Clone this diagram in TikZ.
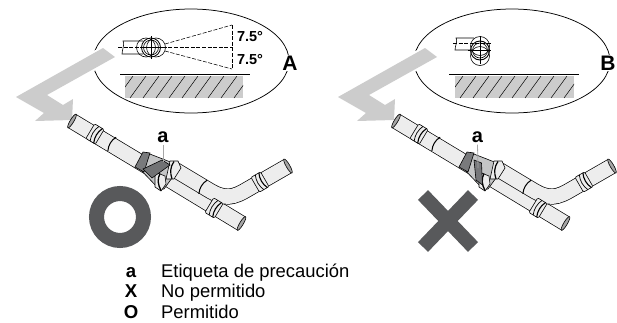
\documentclass[tikz,border=0pt]{standalone}
\usepackage{fontspec}
\setmainfont{Liberation Sans}
\definecolor{pipefill}{HTML}{EDEDED}
\definecolor{arrowgray}{HTML}{CCCCCC}
\definecolor{darkmark}{HTML}{58595B}
\definecolor{midmark}{HTML}{77787B}
\definecolor{junctionfill}{HTML}{C4C5C6}
\usetikzlibrary{shapes.geometric}
\tikzset{
  lens/.style={draw=black,line width=.75,ellipse,minimum width=196pt,minimum height=104pt,inner sep=0},
  bigletter/.style={font=\bfseries\fontsize{21}{21}\selectfont,fill=white,inner sep=1pt},
  anglelabel/.style={font=\bfseries\fontsize{14.5}{14.5}\selectfont,inner sep=0},
  partlabel/.style={font=\bfseries\fontsize{20}{20}\selectfont,inner sep=0},
  legendkey/.style={font=\bfseries\fontsize{18.6}{18.6}\selectfont,inner sep=0,anchor=base},
  legendtext/.style={font=\fontsize{18.4}{18.4}\selectfont,anchor=base west,inner sep=0},
  thinline/.style={line width=.6,black},
  dashline/.style={line width=.55,black,dash pattern=on 4pt off 1.6pt},
  halo/.style={draw=white,line width=4,fill=white,line join=miter},
  bigarrow/.style={fill=arrowgray},
  leader/.style={line width=.8,draw=gray!70},
}
\newcommand\tubepath[1]{\draw[line width=16,black] #1; \draw[line width=14.6,pipefill] #1;}
\newcommand\bandjoint[3]{\begin{scope}[shift={(#1,#2)},rotate=#3]
  \draw[thinline,fill=pipefill,rounded corners=1.2] (-5.5,-8.5) rectangle (5.5,8.5);
  \draw[line width=1.1] (3.6,-8.5) .. controls (1,-3) and (1,3) .. (3.6,8.5);
  \draw[line width=.7] (-.5,-8.5) .. controls (-3,-3) and (-3,3) .. (-.5,8.5);
\end{scope}}
\newcommand\ringline[3]{\begin{scope}[shift={(#1,#2)},rotate=#3]
  \draw[line width=1] (0,-8) .. controls (-2.6,-2.5) and (-2.6,2.5) .. (0,8);
\end{scope}}
\newcommand\tubeend[3]{\begin{scope}[shift={(#1,#2)},rotate=#3]
  \draw[thinline,fill=gray!70] (0,0) ellipse (1.8 and 8);
\end{scope}}
\newcommand\pipeset{
  \tubepath{(72,121) -- (150,168) -- (241.5,223.5)}
  \tubepath{(172,168) -- (208,189.6) .. controls (225,200) and (233,198) .. (248,189) -- (288,166)}
  \tubeend{72}{121}{-31}
  \tubeend{241.5}{223.5}{-31}
  \tubeend{288}{166}{30}
  \bandjoint{95}{134}{-31}
  \ringline{112}{144}{-31}
  \ringline{203}{187}{-31}
  \bandjoint{260}{182}{30}
  \bandjoint{214}{208}{-31}
  \draw[thinline,fill=junctionfill] (146,152.5) -- (173,163) -- (177,171) -- (164,189) -- (159,189) -- (139,168) -- cycle;
  \draw[thinline,fill=darkmark!80] (143,152) -- (150,153) -- (144,172) -- (135,167) -- cycle;
  \draw[thinline,fill=pipefill] (170,161) -- (178,161) -- (181,168) -- (174,179) -- (166,179) -- cycle;
  \draw[line width=1.2] (174,161.5) .. controls (170,167) and (170,173) .. (172,179);
  \draw[thinline,fill=pipefill] (155,172) -- (165,176) -- (166,184) -- (161,191) -- (155,187) -- cycle;
  \draw[line width=1.3] (160,173.5) .. controls (157,179) and (158,185) .. (161,190.5);
}
\newcommand\hatchfield[4]{
  \fill[arrowgray] (#1,76) rectangle (#2,98);
  \begin{scope}
    \clip (#1,76) rectangle (#2,98);
    \pgfmathtruncatemacro\hatchnext{#3+13}
    \foreach \xx in {#3,\hatchnext,...,#4} { \draw[line width=.5] (\xx,98) -- ++(16,-22); }
  \end{scope}
}
\begin{document}
\begin{tikzpicture}[x=1pt,y=-1pt]
  \useasboundingbox (0,0) rectangle (617,322);
  % --- panel A ---
  \node[lens] (lensA) at (191,61) {};
  \draw[halo] (103,48) -- (115,57) -- (47,95) -- (63,105) -- (73,99) -- (72,120) -- (35,121) -- (44,113) -- (16,97) -- cycle;
  \fill[bigarrow] (103,48) -- (115,57) -- (47,95) -- (63,105) -- (73,99) -- (72,120) -- (35,121) -- (44,113) -- (16,97) -- cycle;
  \hatchfield{125}{243}{117}{250}
  \draw[line width=.8] (120,74) -- (250,74);
  % stub and circles
  \draw[thinline] (143,41) -- (123,41) .. controls (125,44) and (122,50) .. (122,54) -- (143,54);
  \draw[dashline] (118,47.5) -- (233,47.5);
  \draw[dashline] (165,44) -- (232,25);
  \draw[dashline] (165,51) -- (232,69);
  \draw[dashline] (232,25) -- (232,69);
  \draw[thinline] (146,47.5) circle (9.5);
  \draw[thinline] (156,47.5) circle (9.5);
  \draw[line width=.8] (151,47.5) circle (9.5);
  \draw[line width=.6] (151,47.5) circle (7.5);
  \draw[thinline] (151,36) -- (151,59);
  \draw[thinline] (141,47.5) -- (163,47.5);
  \node[anglelabel] (angA1) at (250,37) {7.5°};
  \node[anglelabel] (angA2) at (250,60) {7.5°};
  \node[bigletter] (letA) at (290,63) {A};
  % pipes A
  \pipeset
  \draw[thinline,fill=darkmark!85] (143,169) -- (162,160) -- (170,165) -- (152,178) -- cycle;
  \node[partlabel] (labelA) at (163,137) {a};
  \coordinate (tipA) at (163,162);
  \draw[leader] (labelA.south) ++(0,2) -- (tipA);
  \draw[darkmark,line width=15] (120,217) circle (23.5);
  % --- panel B ---
  \node[lens] (lensB) at (512,61) {};
  \draw[halo] (425,48) -- (437,57) -- (369,95) -- (385,105) -- (395,99) -- (394,120) -- (357,121) -- (366,113) -- (338,97) -- cycle;
  \fill[bigarrow] (425,48) -- (437,57) -- (369,95) -- (385,105) -- (395,99) -- (394,120) -- (357,121) -- (366,113) -- (338,97) -- cycle;
  \hatchfield{455}{574}{447}{580}
  \draw[line width=.8] (449,74) -- (579,74);
  \draw[thinline] (474,38) -- (456,38) .. controls (458,41) and (455,46) .. (455,50) -- (471,50);
  \draw[dashline] (453,43.5) -- (491,43.5);
  \draw[thinline] (480,46) circle (9.5);
  \draw[thinline] (480,56) circle (9.5);
  \draw[line width=.9] (480,50.5) circle (9.5);
  \draw[line width=.6] (480,50.5) circle (7.5);
  \draw[thinline] (480,36) -- (480,64);
  \draw[thinline] (468,50.5) -- (491,50.5);
  \node[bigletter] (letB) at (608,63) {B};
  \begin{scope}[shift={(324,0)}]
    \pipeset
    \draw[thinline,fill=midmark] (150,160) -- (157.5,163) -- (158.5,185) -- (152,180) -- cycle;
    \coordinate (tipB) at (154,168);
  \end{scope}
  \node[partlabel] (labelB) at (477.5,137) {a};
  \draw[leader] (labelB.south) ++(0,2) -- (tipB);
  \draw[darkmark,line width=14] (423,195) -- (473,247);
  \draw[darkmark,line width=14] (473,195) -- (423,247);
  % --- legend ---
  \node[legendkey] (keyA) at (131,277) {a};
  \node[legendkey] (keyX) at (131,297.5) {X};
  \node[legendkey] (keyO) at (131,318) {O};
  \node[legendtext] (txtA) at (161,277) {Etiqueta de precaución};
  \node[legendtext] (txtX) at (161,297.5) {No permitido};
  \node[legendtext] (txtO) at (161,318) {Permitido};
\end{tikzpicture}
\end{document}
